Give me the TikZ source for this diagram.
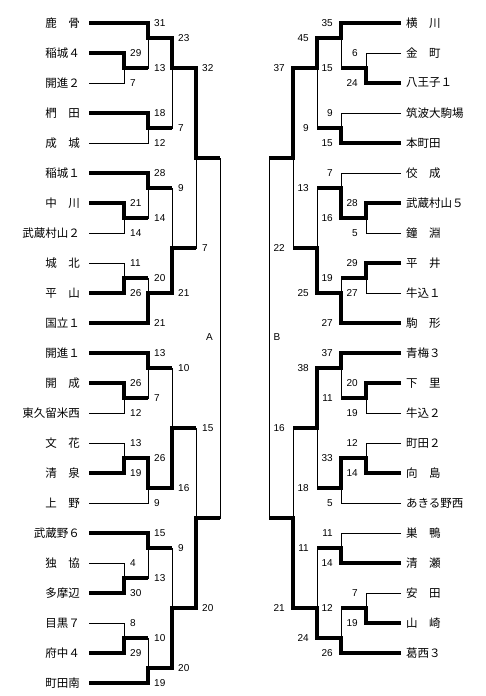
\documentclass[tikz,border=0pt]{standalone}
\usepackage{fontspec}
\setmainfont{Liberation Sans}
\newfontfamily\jp{Noto Sans CJK JP}
\tikzset{
  x=1pt,y=-1pt,
  winh/.style={line width=3.8pt,line cap=butt},
  loseh/.style={line width=1pt,line cap=butt},
  winv/.style={line width=3.8pt,line cap=rect},
  losev/.style={line width=1pt,line cap=rect},
  lname/.style={anchor=east,inner sep=0pt,font=\jp\fontsize{11.5}{12}\selectfont},
  rname/.style={anchor=west,inner sep=0pt,font=\jp\fontsize{11.5}{12}\selectfont},
  lscore/.style={anchor=west,inner sep=0pt,xshift=6pt,font=\fontsize{10}{12}\selectfont},
  rscore/.style={anchor=east,inner sep=0pt,xshift=-8pt,font=\fontsize{10}{12}\selectfont},
  blk/.style={inner sep=0pt,font=\fontsize{10}{11}\selectfont}
}
\newcommand\LT[5]{%
  \node[lname] (#1-n) at (80,{23+30*#2}) {#5};
  \coordinate (#1-s) at (89,{23+30*#2});
  \coordinate (#1) at (#3,{23+30*#2});
  \draw[#4] (#1-s) -- (#1);
}
\newcommand\RT[5]{%
  \node[rname] (#1-n) at (406,{23+30*#2}) {#5};
  \coordinate (#1-s) at (401,{23+30*#2});
  \coordinate (#1) at (#3,{23+30*#2});
  \draw[#4] (#1-s) -- (#1);
}
\newcommand\Match[9]{%
  \coordinate (tmpy) at (0,{23+15*#4});
  \coordinate (#1-j) at (#2 |- tmpy);
  \coordinate (#1) at (#7,{23+15*#4});
  \draw[#5] (#2) -- (#1-j);
  \draw[#6] (#1-j) -- (#3);
  \draw[winh] (#1-j) -- (#1);
  \node[sc] (#1-u) at (#2) {#8};
  \node[sc] (#1-l) at (#3) {#9};
}
\begin{document}
\begin{tikzpicture}
\fill[white] (0,0) rectangle (486,696);
\useasboundingbox (0,0) rectangle (486,696);
% ---------------- left side ----------------
\tikzset{sc/.style=lscore}
\LT{t0}{0}{148}{winh}{鹿　骨}
\LT{t1}{1}{124}{winh}{稲城４}
\LT{t2}{2}{124}{loseh}{開進２}
\LT{t3}{3}{148}{winh}{椚　田}
\LT{t4}{4}{148}{loseh}{成　城}
\LT{t5}{5}{148}{winh}{稲城１}
\LT{t6}{6}{124}{winh}{中　川}
\LT{t7}{7}{124}{loseh}{武蔵村山２}
\LT{t8}{8}{124}{loseh}{城　北}
\LT{t9}{9}{124}{winh}{平　山}
\LT{t10}{10}{148}{winh}{国立１}
\LT{t11}{11}{148}{winh}{開進１}
\LT{t12}{12}{124}{winh}{開　成}
\LT{t13}{13}{124}{loseh}{東久留米西}
\LT{t14}{14}{124}{loseh}{文　花}
\LT{t15}{15}{124}{winh}{清　泉}
\LT{t16}{16}{148}{loseh}{上　野}
\LT{t17}{17}{148}{winh}{武蔵野６}
\LT{t18}{18}{124}{loseh}{独　協}
\LT{t19}{19}{124}{winh}{多摩辺}
\LT{t20}{20}{124}{loseh}{目黒７}
\LT{t21}{21}{124}{winh}{府中４}
\LT{t22}{22}{148}{winh}{町田南}
\Match{a1}{t1}{t2}{3}{winv}{losev}{148}{29}{7}
\Match{a2}{t0}{a1}{1}{winv}{losev}{172}{31}{13}
\Match{a3}{t3}{t4}{7}{winv}{losev}{172}{18}{12}
\Match{a4}{a2}{a3}{3}{winv}{losev}{196}{23}{7}
\Match{a5}{t6}{t7}{13}{winv}{losev}{148}{21}{14}
\Match{a6}{t5}{a5}{11}{winv}{losev}{172}{28}{14}
\Match{a7}{t8}{t9}{17}{losev}{winv}{148}{11}{26}
\Match{a8}{a7}{t10}{18}{losev}{winv}{172}{20}{21}
\Match{a9}{a6}{a8}{15}{losev}{winv}{196}{9}{21}
\Match{a10}{a4}{a9}{9}{winv}{losev}{220}{32}{7}
\Match{a11}{t12}{t13}{25}{winv}{losev}{148}{26}{12}
\Match{a12}{t11}{a11}{23}{winv}{losev}{172}{13}{7}
\Match{a13}{t14}{t15}{29}{losev}{winv}{148}{13}{19}
\Match{a14}{a13}{t16}{31}{winv}{losev}{172}{26}{9}
\Match{a15}{a12}{a14}{27}{losev}{winv}{196}{10}{16}
\Match{a17}{t18}{t19}{37}{losev}{winv}{148}{4}{30}
\Match{a16}{t17}{a17}{35}{winv}{losev}{172}{15}{13}
\Match{a18}{t20}{t21}{41}{losev}{winv}{148}{8}{29}
\Match{a19}{a18}{t22}{43}{losev}{winv}{172}{10}{19}
\Match{a20}{a16}{a19}{39}{losev}{winv}{196}{9}{20}
\Match{a21}{a15}{a20}{33}{losev}{winv}{220}{15}{20}
\draw[losev] (a10) -- (a21);
\node[blk] (blkA) at (209.5,337) {A};
% ---------------- right side ----------------
\tikzset{sc/.style=rscore}
\RT{u0}{0}{341}{winh}{横　川}
\RT{u1}{1}{366}{loseh}{金　町}
\RT{u2}{2}{366}{winh}{八王子１}
\RT{u3}{3}{341}{loseh}{筑波大駒場}
\RT{u4}{4}{341}{winh}{本町田}
\RT{u5}{5}{341}{loseh}{佼　成}
\RT{u6}{6}{366}{winh}{武蔵村山５}
\RT{u7}{7}{366}{loseh}{鐘　淵}
\RT{u8}{8}{366}{winh}{平　井}
\RT{u9}{9}{366}{loseh}{牛込１}
\RT{u10}{10}{341}{winh}{駒　形}
\RT{u11}{11}{341}{winh}{青梅３}
\RT{u12}{12}{366}{winh}{下　里}
\RT{u13}{13}{366}{loseh}{牛込２}
\RT{u14}{14}{366}{loseh}{町田２}
\RT{u15}{15}{366}{winh}{向　島}
\RT{u16}{16}{341}{loseh}{あきる野西}
\RT{u17}{17}{341}{loseh}{巣　鴨}
\RT{u18}{18}{341}{winh}{清　瀬}
\RT{u19}{19}{366}{loseh}{安　田}
\RT{u20}{20}{366}{winh}{山　崎}
\RT{u21}{21}{341}{winh}{葛西３}
\Match{b1}{u1}{u2}{3}{losev}{winv}{341}{6}{24}
\Match{b2}{u0}{b1}{1}{winv}{losev}{317}{35}{15}
\Match{b3}{u3}{u4}{7}{losev}{winv}{317}{9}{15}
\Match{b4}{b2}{b3}{3}{winv}{losev}{293}{45}{9}
\Match{b5}{u6}{u7}{13}{winv}{losev}{341}{28}{5}
\Match{b6}{u5}{b5}{11}{losev}{winv}{317}{7}{16}
\Match{b7}{u8}{u9}{17}{winv}{losev}{341}{29}{27}
\Match{b8}{b7}{u10}{18}{losev}{winv}{317}{19}{27}
\Match{b9}{b6}{b8}{15}{losev}{winv}{293}{13}{25}
\Match{b10}{b4}{b9}{9}{winv}{losev}{269}{37}{22}
\Match{b11}{u12}{u13}{25}{winv}{losev}{341}{20}{19}
\Match{b12}{u11}{b11}{23}{winv}{losev}{317}{37}{11}
\Match{b13}{u14}{u15}{29}{losev}{winv}{341}{12}{14}
\Match{b14}{b13}{u16}{31}{winv}{losev}{317}{33}{5}
\Match{b15}{b12}{b14}{27}{winv}{losev}{293}{38}{18}
\Match{b16}{u17}{u18}{35}{losev}{winv}{317}{11}{14}
\Match{b17}{u19}{u20}{39}{losev}{winv}{341}{7}{19}
\Match{b18}{b17}{u21}{41}{losev}{winv}{317}{12}{26}
\Match{b19}{b16}{b18}{39}{losev}{winv}{293}{11}{24}
\Match{b20}{b15}{b19}{33}{losev}{winv}{269}{16}{21}
\draw[losev] (b10) -- (b20);
\node[blk] (blkB) at (277,337) {B};
\end{tikzpicture}
\end{document}
